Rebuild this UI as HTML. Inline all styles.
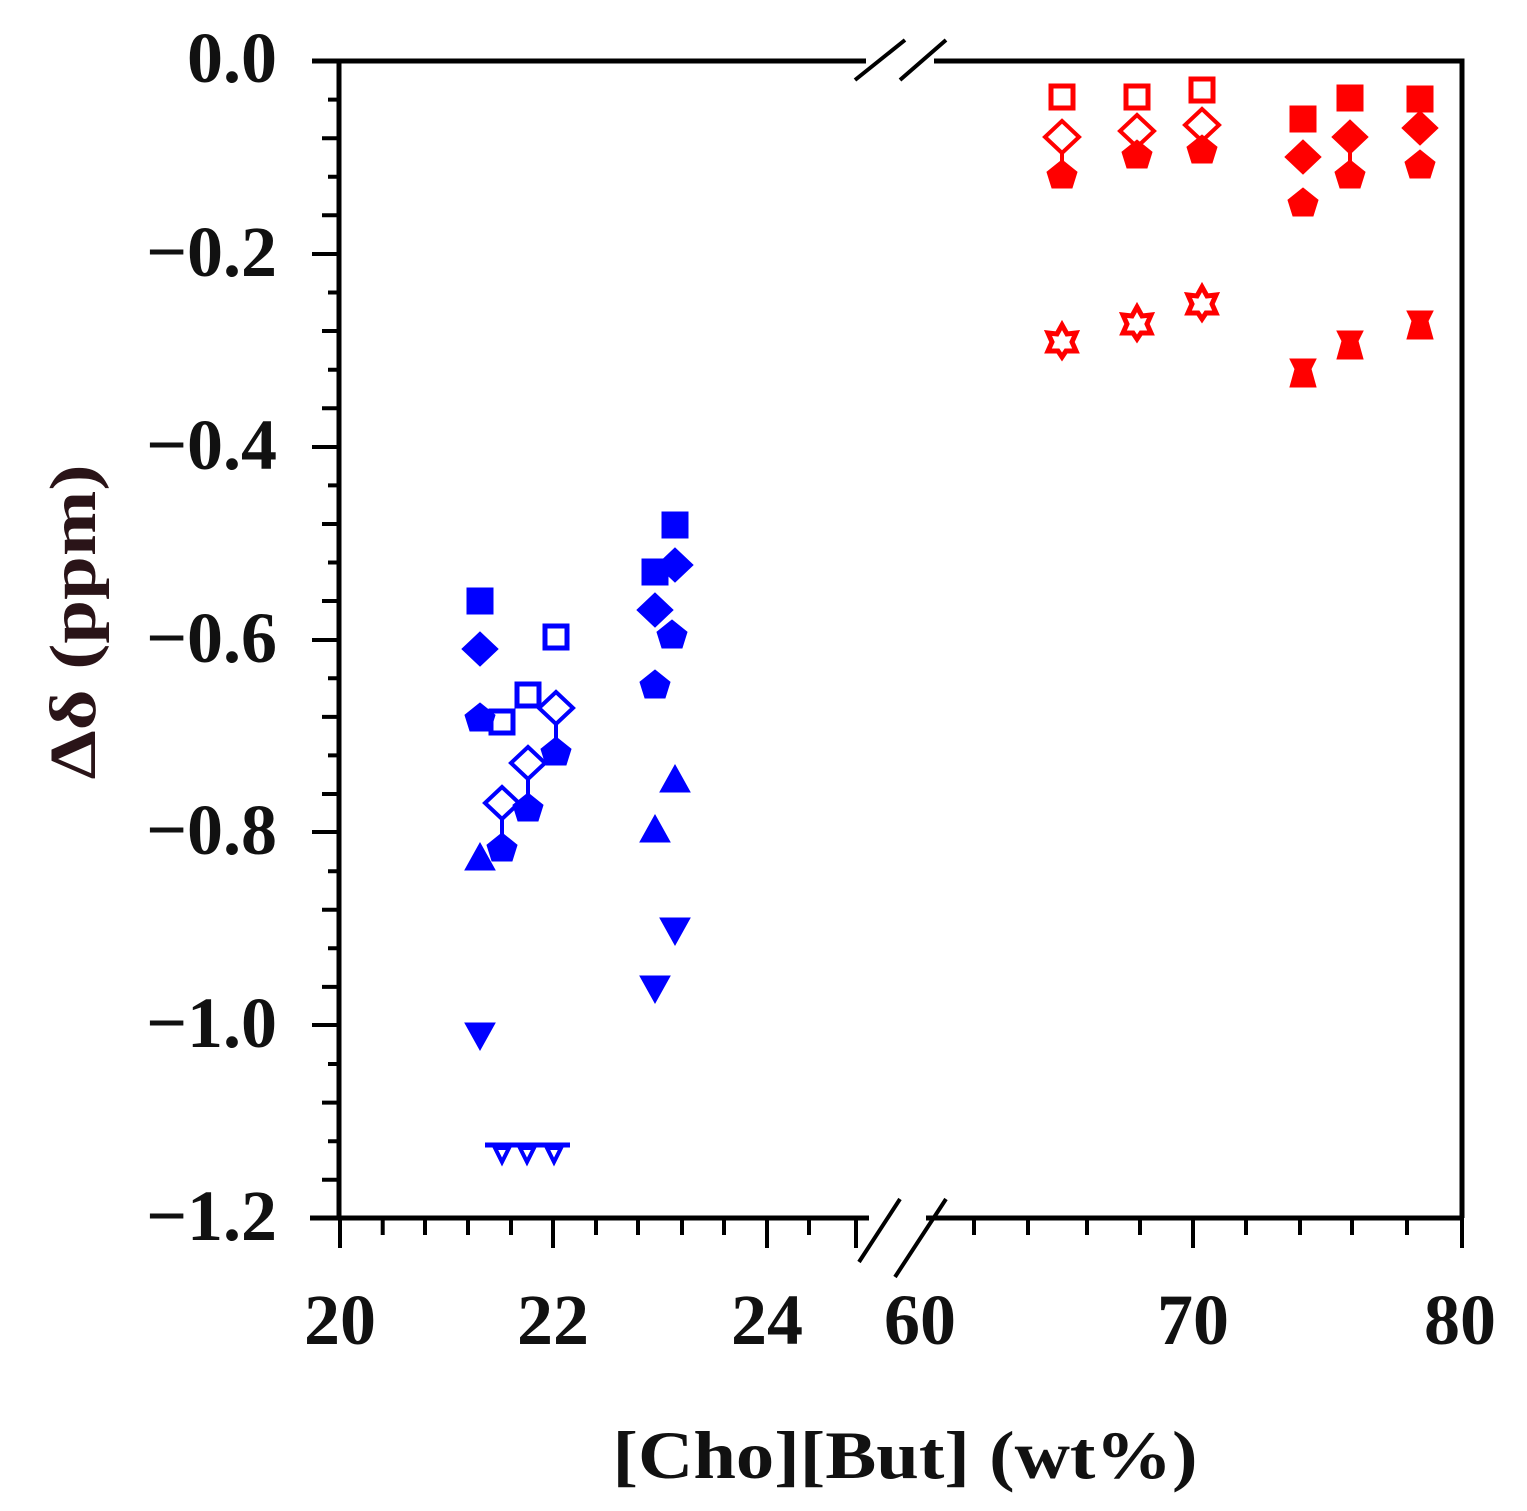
<!DOCTYPE html>
<html><head><meta charset="utf-8"><style>html,body{margin:0;padding:0;background:#fff}svg{display:block}</style></head>
<body>
<svg width="1527" height="1511" viewBox="0 0 1527 1511" xmlns="http://www.w3.org/2000/svg">
<defs>
<g id="sq"><rect x="-13" y="-13" width="26" height="26"/></g>
<g id="osq"><rect x="-11" y="-11" width="22" height="22" fill="none" stroke-width="5"/></g>
<g id="di"><polygon points="0,-17 18,0 0,17 -18,0"/></g>
<g id="odi"><polygon points="0,-16 17,0 0,16 -17,0" fill="none" stroke-width="4"/></g>
<g id="tu"><polygon points="0,-15 15,12 -15,12"/></g>
<g id="td"><polygon points="-15,-12 15,-12 0,15"/></g>
<g id="pe"><polygon points="0,-15 15,-3 10,13 -10,13 -15,-3"/></g>
<g id="hx"><polygon points="-13,-14 13,-14 8,-4 13,14 -13,14 -8,-4"/></g>
<g id="ost"><polygon points="0,-15 5,-6 14,-7 10,2 14,11 4,11 0,17 -4,11 -14,11 -10,2 -14,-7 -5,-6" fill="none" stroke-width="5"/></g>
</defs>

<g stroke="#000" stroke-width="5" fill="none">
<path d="M312 61 H866 M934 61 H1462 V1218 M310 1218 H869 M926 1218 H1462 M339 61 V1218"/>
<path d="M855 80 L905 40 M900 80 L946 40 M859 1262 L900 1199 M895 1277 L946 1199" stroke-width="4"/>
</g>
<g stroke="#000" stroke-width="4">
<path d="M312 61H339M312 254H339M312 447H339M312 640H339M312 832H339M312 1025H339M312 1218H339"/>
<path d="M328 99.6H339M322 138.2H339M328 176.7H339M322 215.3H339M328 292.5H339M322 331H339M328 369.7H339M322 408.2H339M328 485.4H339M322 524H339M328 562.5H339M322 601H339M328 678.3H339M322 716.9H339M328 755.4H339M322 794H339M328 871.2H339M322 909.7H339M328 948.3H339M322 986.9H339M328 1064H339M322 1102.6H339M328 1141.2H339M322 1179.8H339"/>
<path d="M340 1218V1248M553 1218V1248M767 1218V1248M856 1218V1248M1193 1218V1248M1462 1218V1248"/>
<path d="M382.7 1218V1235M425 1218V1235M468 1218V1235M511 1218V1235M596 1218V1235M638 1218V1235M682 1218V1235M724 1218V1235M809 1218V1235M974 1218V1235M1028 1218V1235M1087 1218V1235M1140 1218V1235M1246 1218V1235M1300 1218V1235M1352 1218V1235M1407 1218V1235"/>
</g>

<g font-family="Liberation Serif, serif" font-weight="bold" font-size="72" fill="#111" text-anchor="end">
<text x="277" y="82">0.0</text>
<text x="277" y="276">−0.2</text>
<text x="277" y="469">−0.4</text>
<text x="277" y="662">−0.6</text>
<text x="277" y="854">−0.8</text>
<text x="277" y="1047">−1.0</text>
<text x="277" y="1240">−1.2</text>
</g>
<g font-family="Liberation Serif, serif" font-weight="bold" font-size="72" fill="#111" text-anchor="middle">
<text x="340" y="1344">20</text>
<text x="553" y="1344">22</text>
<text x="767" y="1344">24</text>
<text x="920" y="1344">60</text>
<text x="1193" y="1344">70</text>
<text x="1460" y="1344">80</text>
</g>
<text x="905" y="1478" font-family="Liberation Serif, serif" font-weight="bold" font-size="68" fill="#111" text-anchor="middle" textLength="585" lengthAdjust="spacingAndGlyphs">[Cho][But] (wt%)</text>
<text transform="translate(95,622) rotate(-90)" font-family="Liberation Serif, serif" font-weight="bold" font-size="66" fill="#2a1418" text-anchor="middle" textLength="315" lengthAdjust="spacingAndGlyphs">Δδ (ppm)</text>

<g fill="#0000ff" stroke="#0000ff">
<use href="#sq" x="480" y="601"/>
<use href="#di" x="480" y="649"/>
<use href="#pe" x="480" y="718"/>
<use href="#tu" x="480" y="858"/>
<use href="#td" x="480" y="1035"/>
<use href="#osq" x="556" y="637"/>
<use href="#osq" x="528" y="695"/>
<use href="#osq" x="502" y="722"/>
<use href="#odi" x="556" y="708"/>
<use href="#odi" x="528" y="763"/>
<use href="#odi" x="502" y="803"/>
<path d="M556 723V745M528 778V800M502 818V840" stroke-width="4" fill="none"/>
<use href="#pe" x="556" y="752"/>
<use href="#pe" x="528" y="808"/>
<use href="#pe" x="502" y="848"/>
<path d="M485 1145H570" stroke-width="5"/>
<path d="M495 1148h14l-7 14zM520 1148h14l-7 14zM547 1148h14l-7 14z" fill="none" stroke-width="4"/>
<use href="#sq" x="675" y="525"/>
<use href="#sq" x="655" y="572"/>
<use href="#di" x="675" y="565"/>
<use href="#di" x="655" y="610"/>
<use href="#pe" x="672" y="635"/>
<use href="#pe" x="655" y="685"/>
<use href="#tu" x="675" y="780"/>
<use href="#tu" x="655" y="830"/>
<use href="#td" x="675" y="930"/>
<use href="#td" x="655" y="988"/>
</g>

<g fill="#ff0000" stroke="#ff0000">
<use href="#osq" x="1062" y="97"/>
<use href="#osq" x="1137" y="97"/>
<use href="#osq" x="1202" y="90"/>
<use href="#odi" x="1062" y="137"/>
<use href="#odi" x="1137" y="131"/>
<use href="#odi" x="1202" y="125"/>
<path d="M1062 152V165" stroke-width="4"/>
<use href="#pe" x="1062" y="175"/>
<use href="#pe" x="1137" y="155"/>
<use href="#pe" x="1202" y="150"/>
<use href="#ost" x="1062" y="340"/>
<use href="#ost" x="1137" y="322"/>
<use href="#ost" x="1202" y="302"/>
<use href="#sq" x="1303" y="119"/>
<use href="#sq" x="1350" y="98"/>
<use href="#sq" x="1420" y="99"/>
<use href="#di" x="1303" y="157"/>
<use href="#di" x="1350" y="137"/>
<use href="#di" x="1420" y="128"/>
<path d="M1350 150V165" stroke-width="4"/>
<use href="#pe" x="1303" y="203"/>
<use href="#pe" x="1350" y="175"/>
<use href="#pe" x="1420" y="165"/>
<use href="#hx" x="1303" y="373"/>
<use href="#hx" x="1350" y="345"/>
<use href="#hx" x="1420" y="325"/>
</g>
</svg>
</body></html>
